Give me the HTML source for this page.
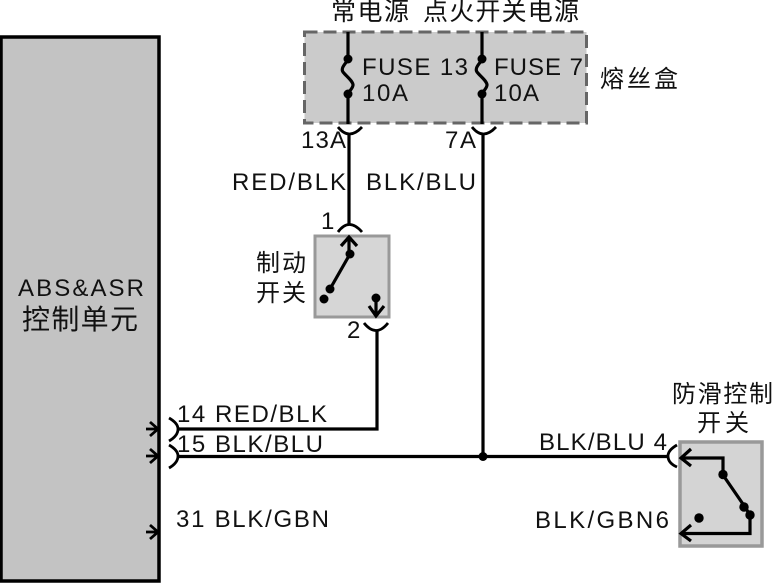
<!DOCTYPE html>
<html><head><meta charset="utf-8"><style>
html,body{margin:0;padding:0;background:#fff;width:772px;height:583px;overflow:hidden}
text{font-family:"Liberation Sans","Noto Sans CJK SC",sans-serif;font-size:24px;fill:#111}
.w{fill:none;stroke:#000;stroke-width:3.2}
.t{fill:none;stroke:#000;stroke-width:2.8}
</style></head><body>
<svg width="772" height="583" viewBox="0 0 772 583" xmlns="http://www.w3.org/2000/svg">
<rect x="1" y="37" width="158" height="544" fill="#c3c3c3" stroke="#000" stroke-width="3.500"/>
<rect x="304.500" y="32" width="282" height="91" fill="#cbcbcb" stroke="#666" stroke-width="3" stroke-dasharray="13 6"/>
<rect x="315" y="236" width="74" height="81" fill="#d6d6d6" stroke="#999" stroke-width="3"/>
<rect x="680" y="442" width="82" height="104" fill="#d4d4d4" stroke="#999" stroke-width="3.500"/>

<text x="331" y="20" textLength="78" font-size="25" style="font-size:25px">常电源</text>
<text x="423" y="20" textLength="156" style="font-size:25px">点火开关电源</text>
<text x="600" y="87" textLength="78">熔丝盒</text>
<text x="256" y="271" textLength="50">制动</text>
<text x="256" y="301" textLength="50">开关</text>
<text x="22" y="329" textLength="116" style="font-size:28px">控制单元</text>
<text x="672" y="402" textLength="101">防滑控制</text>
<text x="697" y="431" textLength="52">开关</text>

<text x="362" y="75" textLength="106" lengthAdjust="spacing">FUSE 13</text>
<text x="494" y="75" textLength="89" lengthAdjust="spacing">FUSE 7</text>
<text x="362" y="101" textLength="46" lengthAdjust="spacing">10A</text>
<text x="494" y="101" textLength="45" lengthAdjust="spacing">10A</text>
<text x="301" y="148" textLength="45" lengthAdjust="spacing">13A</text>
<text x="445" y="148" textLength="31" lengthAdjust="spacing">7A</text>
<text x="232" y="190" textLength="114" lengthAdjust="spacing">RED/BLK</text>
<text x="366" y="190" textLength="110" lengthAdjust="spacing">BLK/BLU</text>
<text x="321" y="229">1</text>
<text x="347" y="338">2</text>
<text x="18" y="296" textLength="126" lengthAdjust="spacing">ABS&amp;ASR</text>
<text x="177" y="422" textLength="150" lengthAdjust="spacing">14 RED/BLK</text>
<text x="177" y="452" textLength="146" lengthAdjust="spacing">15 BLK/BLU</text>
<text x="176" y="527" textLength="153" lengthAdjust="spacing">31 BLK/GBN</text>
<text x="539" y="450" textLength="128" lengthAdjust="spacing">BLK/BLU 4</text>
<text x="535" y="528" textLength="134" lengthAdjust="spacing">BLK/GBN6</text>

<path class="w" d="M348 32V60M348 94V124M482 32V60M482 94V124"/>
<path class="w" d="M348 60C343 66 341 69 343 72C346 76 353 81 353 85C353 88 350 90 348 94"/>
<path class="w" d="M482 60C477 66 475 69 477 72C480 76 487 81 487 85C487 88 484 90 482 94"/>
<circle cx="348" cy="59" r="4.500"/><circle cx="348" cy="94" r="4.500"/>
<circle cx="482" cy="59" r="4.500"/><circle cx="482" cy="94" r="4.500"/>
<path class="t" d="M338 127Q349 141 362 127M472 127Q483 141 496 127"/>
<path class="w" d="M349 133V224M483 133V457"/>
<path class="t" d="M338 232Q349 217 362 232"/>
<path class="w" d="M349 237V254M341 246L349 237L357 246"/>
<circle cx="350" cy="254" r="4.500"/><circle cx="330" cy="289" r="4.500"/><circle cx="324" cy="299" r="4.500"/>
<path class="w" d="M350 254L330 289"/>
<circle cx="376" cy="298" r="4.500"/>
<path class="w" d="M376 298V316M369 306L376 316L384 306"/>
<path class="t" d="M364 323Q376 338 388 323"/>
<path class="w" d="M377 331V429H178M178 456.500H668"/>
<circle cx="483" cy="456.500" r="4.500"/>
<path class="t" d="M169 418C176 422 178 426 178 429C178 433 176 437 169 441M169 445C176 449 178 453 178 456C178 460 176 464 169 468"/>
<path class="t" d="M146 429H158M150 422L158 429L150 436M146 456H158M150 449L158 456L150 463M146 532H158M150 525L158 532L150 539"/>
<path class="t" d="M677 445C670 449 668 453 668 456C668 460 670 464 677 467"/>
<path class="w" d="M682 458H723V475L745 507L750 515V533.500H682"/>
<path class="w" d="M691 449L681 458L691 466M691 525L681 533.500L691 541"/>
<circle cx="723" cy="474.500" r="4.700"/><circle cx="744" cy="507" r="4.700"/><circle cx="750" cy="515" r="4.700"/><circle cx="699" cy="518" r="4.700"/>
</svg>
</body></html>
